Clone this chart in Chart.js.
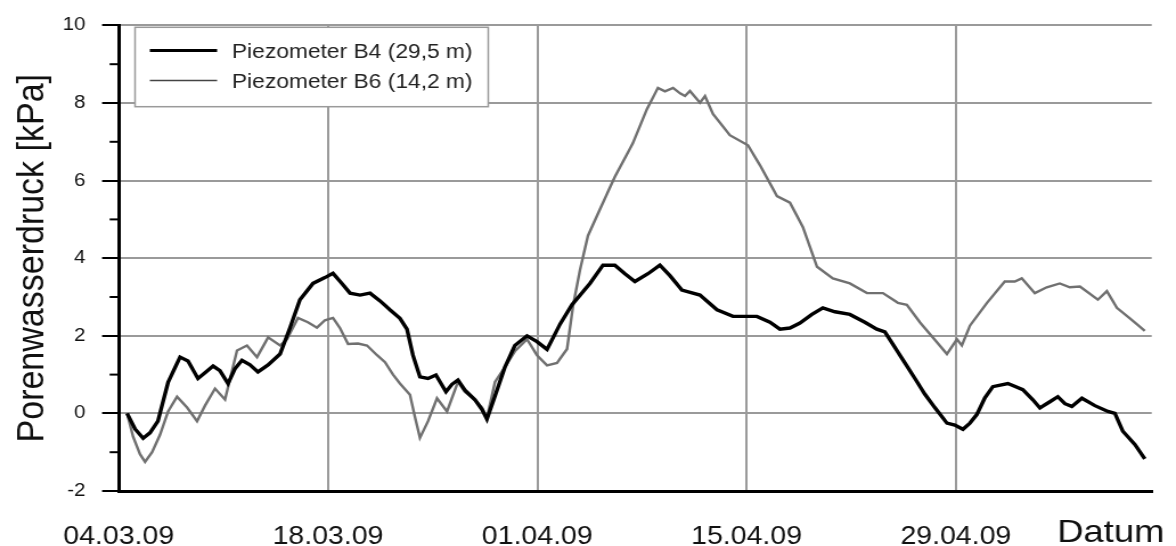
<!DOCTYPE html>
<html>
<head>
<meta charset="utf-8">
<script src="https://cdn.jsdelivr.net/npm/chart.js@4"></script>
<style>
  html, body { margin: 0; padding: 0; background: #fff; overflow: hidden; }
  /* the source picture is stretched sideways, so the canvas is too */
  #chart { display: block; transform: scaleX(1.1395); transform-origin: 0 0; }
</style>
</head>
<body>
<canvas id="chart" width="1032" height="546"></canvas>
<script>
// days after 04.03.09
const tickDays = [0, 14, 28, 42, 56];
const tickLabels = ['04.03.09', '18.03.09', '01.04.09', '15.04.09', '29.04.09'];
const seriesLabels = ['Piezometer B4 (29,5 m)', 'Piezometer B6 (14,2 m)'];

const b4Days = [0.56, 1.09, 1.63, 2.09, 2.62, 3.3, 4.1, 4.63, 5.3, 5.77, 6.31, 6.77, 7.31, 7.77, 8.24, 8.78, 9.31, 9.99,
  10.79, 11.45, 12.12, 12.99, 13.79, 14.33, 14.93, 15.47, 16.14, 16.81, 17.48, 18.14, 18.81, 19.28, 19.68, 20.15, 20.69,
  21.22, 21.89, 22.29, 22.69, 23.16, 23.83, 24.3, 24.63, 25.17, 25.84, 26.5, 27.31, 27.98, 28.65, 29.52, 30.32, 31.52,
  32.39, 33.19, 33.86, 34.53, 35.4, 36.2, 36.87, 37.67, 38.88, 40.02, 41.09, 42.69, 43.56, 44.23, 44.9, 45.57, 46.37,
  47.1, 47.91, 48.91, 49.91, 50.71, 51.25, 51.92, 52.59, 53.26, 53.92, 54.59, 55.4, 55.93, 56.47, 56.94, 57.4, 57.94,
  58.47, 59.48, 60.48, 61.15, 61.62, 62.29, 62.82, 63.29, 63.76, 64.43, 65.3, 66.17, 66.64, 67.17, 67.97, 68.64];
const b4Values = [0, -0.4, -0.64, -0.5, -0.2, 0.8, 1.45, 1.35, 0.9, 1.05, 1.22, 1.1, 0.77, 1.15, 1.37, 1.25, 1.07, 1.25,
  1.53, 2.2, 2.93, 3.35, 3.5, 3.61, 3.35, 3.1, 3.05, 3.1, 2.9, 2.67, 2.45, 2.17, 1.5, 0.94, 0.9,
  0.99, 0.56, 0.75, 0.86, 0.6, 0.35, 0.1, -0.15, 0.45, 1.2, 1.75, 2.0, 1.85, 1.65, 2.3, 2.8, 3.35,
  3.82, 3.82, 3.6, 3.4, 3.6, 3.82, 3.55, 3.18, 3.05, 2.67, 2.5, 2.5, 2.35, 2.17, 2.2, 2.33, 2.55,
  2.72, 2.62, 2.55, 2.35, 2.17, 2.1, 1.7, 1.3, 0.9, 0.5, 0.15, -0.25, -0.3, -0.41, -0.25, -0.03, 0.4,
  0.69, 0.77, 0.61, 0.35, 0.14, 0.3, 0.43, 0.25, 0.18, 0.39, 0.2, 0.05, 0.0, -0.46, -0.8, -1.17];

const b6Days = [0.56, 0.96, 1.42, 1.76, 2.23, 2.76, 3.3, 3.9, 4.57, 5.24, 5.77, 6.44, 7.11, 7.91, 8.58, 9.25, 9.99,
  10.79, 11.25, 11.99, 12.65, 13.26, 13.79, 14.33, 14.8, 15.34, 16.0, 16.61, 17.28, 17.81, 18.35, 18.81, 19.48, 19.82,
  20.15, 20.69, 21.29, 21.96, 22.69, 23.16, 23.83, 24.3, 24.63, 25.17, 25.84, 26.5, 27.31, 27.98, 28.65, 29.32, 29.99,
  30.39, 30.85, 31.39, 32.19, 33.19, 34.39, 35.33, 36.07, 36.54, 37.08, 37.55, 37.88, 38.21, 38.88, 39.22, 39.75,
  40.88, 42.09, 42.89, 44.03, 44.9, 45.77, 46.71, 47.77, 48.91, 50.05, 51.12, 52.12, 52.72, 53.59, 54.59, 55.4,
  56.07, 56.4, 56.94, 58.08, 59.27, 59.94, 60.41, 61.28, 62.08, 62.95, 63.62, 64.3, 65.5, 66.1, 66.77, 67.64, 68.64];
const b6Values = [0, -0.6, -1.05, -1.25, -1.0, -0.55, 0.05, 0.43, 0.15, -0.2, 0.2, 0.64, 0.36, 1.62, 1.75, 1.45, 1.96,
  1.75, 1.91, 2.46, 2.35, 2.21, 2.4, 2.46, 2.2, 1.79, 1.8, 1.75, 1.5, 1.32, 1.0, 0.77, 0.48, -0.1,
  -0.63, -0.2, 0.39, 0.05, 0.81, 0.55, 0.35, 0.15, -0.12, 0.81, 1.2, 1.6, 1.91, 1.5, 1.24, 1.3, 1.66,
  2.77, 3.69, 4.58, 5.26, 6.1, 6.96, 7.84, 8.39, 8.3, 8.39, 8.25, 8.18, 8.31, 8.01, 8.18, 7.72,
  7.17, 6.91, 6.4, 5.6, 5.43, 4.8, 3.78, 3.48, 3.35, 3.1, 3.1, 2.85, 2.8, 2.35, 1.9, 1.53,
  1.91, 1.75, 2.26, 2.85, 3.4, 3.4, 3.48, 3.1, 3.25, 3.35, 3.25, 3.27, 2.93, 3.15, 2.72, 2.45, 2.13];

const fontFamily = "'Liberation Sans', Arial, sans-serif";

function toPoints(days, values) {
  return days.map((d, i) => ({ x: d, y: values[i] }));
}

// short ticks at the odd kPa values
const minorTicks = {
  id: 'minorTicks',
  afterDraw(chart) {
    const y = chart.scales.y;
    const ctx = chart.ctx;
    ctx.save();
    ctx.strokeStyle = '#000';
    ctx.lineWidth = 2;
    for (let v = -1; v < 10; v += 2) {
      const py = y.getPixelForValue(v);
      ctx.beginPath();
      ctx.moveTo(y.right - 8, py);
      ctx.lineTo(y.right, py);
      ctx.stroke();
    }
    ctx.restore();
  }
};

// boxed legend in the top left corner of the plot
const boxLegend = {
  id: 'boxLegend',
  afterDatasetsDraw(chart) {
    const ctx = chart.ctx;
    const area = chart.chartArea;
    const left = area.left + 14.3, top = 27.3, w = 310, h = 79.4;
    ctx.save();
    ctx.fillStyle = '#fff';
    ctx.fillRect(left, top, w, h);
    ctx.strokeStyle = '#9a9a9a';
    ctx.lineWidth = 1.5;
    ctx.strokeRect(left, top, w, h);

    const rows = [
      { y: 50.5, color: '#000', width: 3 },
      { y: 80.5, color: '#444', width: 1.5 }
    ];
    rows.forEach((r, i) => {
      ctx.strokeStyle = r.color;
      ctx.lineWidth = r.width;
      ctx.beginPath();
      ctx.moveTo(left + 13, r.y);
      ctx.lineTo(left + 72, r.y);
      ctx.stroke();
      ctx.fillStyle = '#222';
      ctx.font = '20px ' + fontFamily;
      ctx.textAlign = 'left';
      ctx.textBaseline = 'middle';
      ctx.fillText(chart.data.datasets[i].label, left + 85, r.y + 1.5);
    });
    ctx.restore();
  }
};

// axis name sits on the same row as the date labels
const datumLabel = {
  id: 'datumLabel',
  afterDraw(chart) {
    const ctx = chart.ctx;
    ctx.save();
    ctx.fillStyle = '#111';
    ctx.font = '32px ' + fontFamily;
    ctx.textAlign = 'left';
    ctx.textBaseline = 'alphabetic';
    ctx.fillText('Datum', chart.chartArea.right - 83, 542);
    ctx.restore();
  }
};

document.addEventListener('DOMContentLoaded', function() {
  const ctx = document.getElementById('chart').getContext('2d');

  new Chart(ctx, {
    type: 'line',
    data: {
      datasets: [
        {
          label: seriesLabels[0],
          data: toPoints(b4Days, b4Values),
          borderColor: '#000',
          borderWidth: 3.4,
          pointRadius: 0,
          tension: 0
        },
        {
          label: seriesLabels[1],
          data: toPoints(b6Days, b6Values),
          borderColor: '#707070',
          borderWidth: 2.4,
          pointRadius: 0,
          tension: 0
        }
      ]
    },
    options: {
      responsive: false,
      animation: false,
      layout: {
        padding: { left: 0, right: 21.3, top: 18.3, bottom: 0 },
        autoPadding: false
      },
      scales: {
        x: {
          type: 'linear',
          min: 0,
          max: 69.1,
          afterBuildTicks: scale => {
            scale.ticks = tickDays.map(v => ({ value: v }));
          },
          afterFit: scale => { scale.height = 55; },
          grid: { color: '#9a9a9a', lineWidth: 2, drawTicks: false },
          border: { color: '#000', width: 3 },
          ticks: {
            autoSkip: false,
            maxRotation: 0,
            padding: 31,
            color: '#111',
            font: { family: fontFamily, size: 25 },
            callback: value => tickLabels[tickDays.indexOf(value)]
          }
        },
        y: {
          min: -2,
          max: 10,
          afterFit: scale => { scale.width = 104.2; },
          grid: {
            color: '#9a9a9a',
            lineWidth: 2,
            tickLength: 14.6,
            tickColor: '#000',
            tickWidth: 2
          },
          border: { color: '#000', width: 3 },
          ticks: {
            stepSize: 2,
            padding: 14.6,
            color: '#111',
            font: { family: fontFamily, size: 18 }
          },
          title: {
            display: true,
            text: 'Porenwasserdruck [kPa]',
            color: '#111',
            font: { family: fontFamily, size: 34 },
            padding: { top: 8, bottom: 0 }
          }
        }
      },
      plugins: {
        legend: { display: false },
        tooltip: { enabled: false }
      }
    },
    plugins: [minorTicks, boxLegend, datumLabel]
  });
});
</script>
</body>
</html>
